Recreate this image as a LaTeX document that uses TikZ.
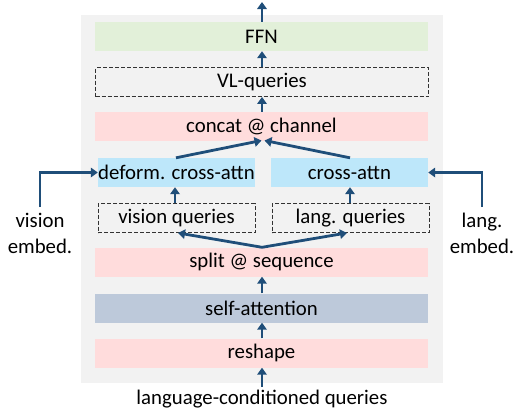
\documentclass[tikz,border=0pt]{standalone}
\usepackage{fontspec}
\setmainfont{Carlito}
\usetikzlibrary{arrows.meta}
\definecolor{panelgray}{HTML}{F2F2F2}
\definecolor{ffngreen}{HTML}{E2F0D9}
\definecolor{oppink}{HTML}{FFDCDC}
\definecolor{attnblue}{HTML}{BDE7FA}
\definecolor{selfblue}{HTML}{BDC9DA}
\definecolor{arrowblue}{HTML}{1F4E79}
\tikzset{
  every node/.style={font=\fontsize{20.8}{26}\selectfont, inner sep=0pt},
  block/.style={minimum width=333pt, minimum height=29pt},
  halfblock/.style={minimum width=157pt, minimum height=29pt},
  dashbox/.style={draw=black!80, dash pattern=on 4pt off 2pt, line width=0.9pt, fill=panelgray},
  flow/.style={draw=arrowblue, line width=2.8pt, -{Triangle[width=9.5pt,length=7pt]}},
}
\begin{document}
\begin{tikzpicture}[x=1pt, y=-1pt]
\useasboundingbox (0,0) rectangle (515,410);
% background panel
\fill[panelgray] (81,15) rectangle (443,383);

% main column
\node[block, fill=ffngreen] (ffn) at (261.5,36.5) {FFN};
\node[block, dashbox] (vlq) at (262,82) {VL-queries};
\node[block, fill=oppink] (concat) at (261.5,126.5) {concat @ channel};
\node[halfblock, fill=attnblue] (dca) at (176.5,172.5) {deform. cross-attn};
\node[halfblock, fill=attnblue] (ca) at (349.5,172.5) {cross-attn};
\node[halfblock, dashbox] (vq) at (176.5,218) {vision queries};
\node[halfblock, dashbox] (lq) at (350.5,218) {lang. queries};
\node[block, fill=oppink] (split) at (261.5,262) {split @ sequence};
\node[block, fill=selfblue] (sa) at (261.5,308) {self-attention};
\node[block, fill=oppink] (reshape) at (261.5,353) {reshape};

% inputs and output
\node[anchor=base] (lcq) at (262,404) {language-conditioned queries};
\coordinate (out) at (262,2);
\node[align=center] (vemb) at (40,233) {vision\\embed.};
\node[align=center] (lemb) at (482,233) {lang.\\embed.};
\coordinate (vstart) at (40,207);
\coordinate (lstart) at (482,207);
\coordinate (vcorner) at (40,172.5);
\coordinate (lcorner) at (482,172.5);
\coordinate (cjoin) at (263,140.5);

% connectors
\draw[flow] (262,387) -- (reshape.south -| 262,0);
\draw[flow] (reshape.north -| 262,0) -- (sa.south -| 262,0);
\draw[flow] (sa.north -| 262,0) -- (split.south -| 262,0);
\draw[flow] (split.north -| 262,0) -- (vq.south -| 178,0);
\draw[flow] (split.north -| 262,0) -- (lq.south -| 347,0);
\draw[flow] (vq.north -| 175,0) -- (dca.south -| 175,0);
\draw[flow] (lq.north -| 350,0) -- (ca.south -| 350,0);
\draw[flow] (dca.north -| 176,0) -- ([xshift=-1.5pt]cjoin);
\draw[flow] (ca.north -| 350,0) -- ([xshift=1.5pt]cjoin);
\draw[flow] (concat.north -| 262,0) -- (vlq.south -| 262,0);
\draw[flow] (vlq.north -| 262,0) -- (ffn.south -| 262,0);
\draw[flow] (ffn.north -| 262,0) -- (out);
\draw[flow] (vstart) -- (vcorner) -- (dca.west);
\draw[flow] (lstart) -- (lcorner) -- (ca.east);
\end{tikzpicture}
\end{document}
